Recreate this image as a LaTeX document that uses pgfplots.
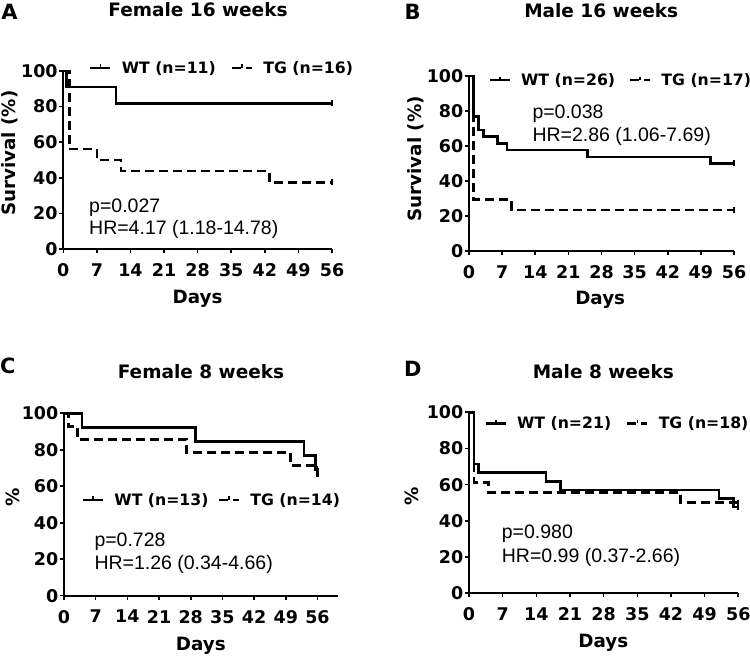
\documentclass[border=0pt]{standalone}
\usepackage{fontspec}
\setmainfont{Liberation Sans}
\newfontfamily\bfont{DejaVu Sans}
\usepackage{pgfplots}
\pgfplotsset{compat=1.18}
\newcommand\fs[1]{\fontsize{#1}{#1}\selectfont}
\newcommand\bfs[1]{\bfont\bfseries\fs{#1}}
\pgfplotsset{
 km/.style={
  scale only axis, axis lines=left, axis line style={line width=2pt,-},
  ymin=0, ymax=100, ytick={0,20,40,60,80,100}, xmin=0, xtick={0,7,...,56},
  tick style={line width=1.6pt,black}, major tick length=4pt, tick align=outside,
  clip=false,
  /pgf/number format/assume math mode=true,
  ticklabel style={font=\bfs{17.5}},
  yticklabel style={inner xsep=1.5pt},
  xticklabel style={yshift=-7pt},
  label style={font=\bfs{18.3}},
  legend style={draw=none, fill=none, inner sep=0pt, anchor=west, font=\bfs{15.7}, cells={anchor=west}, nodes={inner sep=0pt}},
  legend columns=2,
  legend image code/.code={\draw[##1] (0pt,0pt)--(20pt,0pt); \draw[solid,line width=1.6pt] (10pt,0pt)--(10pt,3.5pt); \path (0pt,0pt) (30pt,0pt);},
 },
 wt/.style={black, line width=2.6pt, solid},
 tg/.style={black, line width=2.6pt, dash pattern=on 9pt off 5pt},
 cens/.style={only marks, mark=|, mark size=3pt, line width=1.6pt, black, forget plot},
}
\begin{document}
\begin{tikzpicture}
\useasboundingbox (0,0) rectangle (750pt,658pt);
% Panel A
\begin{axis}[km, at={(63.3pt,409pt)}, anchor=south west, width=268.7pt, height=178pt, xmax=56,
 xlabel={Days}, ylabel={Survival (\%)},
 xlabel style={at={(rel axis cs:0.5,-0.309)}, anchor=base},
 ylabel style={at={(rel axis cs:-0.198,0.539)}, anchor=center},
 legend style={at={(0.0956,1.017)}, /tikz/every even column/.append style={column sep=15pt}}]
\addplot[wt, const plot] coordinates {(0,100) (0.7,90.9) (11,81.8) (56,81.8)};
\addlegendentry{WT (n=11)}
\addplot[tg, const plot] coordinates {(0,100) (1.25,56.25) (7,50) (12,43.75) (43,37.5) (56,37.5)};
\addlegendentry{TG (n=16)}
\addplot[cens] coordinates {(56,81.8) (56,37.5)};
\end{axis}
% Panel B
\begin{axis}[km, at={(469pt,407pt)}, anchor=south west, width=265pt, height=175pt, xmax=56,
 xlabel={Days}, ylabel={Survival (\%)},
 xlabel style={at={(rel axis cs:0.495,-0.305)}, anchor=base},
 ylabel style={at={(rel axis cs:-0.2,0.526)}, anchor=center},
 legend style={at={(0.073,0.977)}, /tikz/every even column/.append style={column sep=13.7pt}}]
\addplot[wt, const plot] coordinates {(0,100) (1,76.9) (2,69.2) (3,65.4) (6,61.5) (8,57.7) (25,53.8) (51,50) (56,50)};
\addlegendentry{WT (n=26)}
\addplot[tg, const plot] coordinates {(0,100) (1,29.4) (9,23.5) (56,23.5)};
\addlegendentry{TG (n=17)}
\addplot[cens] coordinates {(56,50) (56,23.5)};
\end{axis}
% Panel C
\begin{axis}[km, at={(64pt,62.3pt)}, anchor=south west, width=274.3pt, height=182.4pt, xmax=60.6,
 xlabel={Days}, ylabel={\%},
 xlabel style={at={(rel axis cs:0.499,-0.298)}, anchor=base},
 ylabel style={at={(rel axis cs:-0.185,0.541)}, anchor=center},
 legend style={at={(0.0645,0.525)}, /tikz/every even column/.append style={column sep=9.3pt}}]
\addplot[wt, const plot] coordinates {(0,100) (4,92.3) (29,84.6) (53,76.9) (55.5,69.2) (56,69.2)};
\addlegendentry{WT (n=13)}
\addplot[tg, const plot] coordinates {(0,100) (1,92.9) (3,85.7) (27,78.6) (50,71.4) (56,64.3)};
\addlegendentry{TG (n=14)}
\addplot[cens] coordinates {(56,69.2)};
\end{axis}
% Panel D
\begin{axis}[km, at={(469pt,64.7pt)}, anchor=south west, width=269.3pt, height=181pt, xmax=56,
 xlabel={Days}, ylabel={\%},
 xlabel style={at={(rel axis cs:0.499,-0.30)}, anchor=base},
 ylabel style={at={(rel axis cs:-0.212,0.534)}, anchor=center},
 legend style={at={(0.057,0.939)}, /tikz/every even column/.append style={column sep=15pt}}]
\addplot[wt, const plot] coordinates {(0,100) (1,71.4) (2,66.7) (16,61.9) (19,57.1) (52,52.4) (55,47.6) (56,47.6)};
\addlegendentry{WT (n=21)}
\addplot[tg, const plot] coordinates {(0,100) (1,61.1) (4,55.6) (44,50) (56,50)};
\addlegendentry{TG (n=18)}
\addplot[cens] coordinates {(56,47.6) (56,50)};
\end{axis}
% titles and panel letters
\node[anchor=base, font=\bfs{18.5}] at (198pt,641.3pt) {Female 16 weeks};
\node[anchor=base, font=\bfs{18.5}] at (601.2pt,640.7pt) {Male 16 weeks};
\node[anchor=base, font=\bfs{18.5}] at (201pt,279.7pt) {Female 8 weeks};
\node[anchor=base, font=\bfs{18.5}] at (603.3pt,279.7pt) {Male 8 weeks};
\node[anchor=base west, inner sep=0pt, font=\bfs{21}] at (1.2pt,638pt) {A};
\node[anchor=base west, inner sep=0pt, font=\bfs{21}] at (404.5pt,638pt) {B};
\node[anchor=base west, inner sep=0pt, font=\bfs{21}] at (0pt,284.7pt) {C};
\node[anchor=base west, inner sep=0pt, font=\bfs{21}] at (403.8pt,281.3pt) {D};
% statistics
\begin{scope}[every node/.style={anchor=base west, inner sep=0pt, font=\fs{19.5}}]
\node at (89pt,445pt) {p=0.027};
\node at (89pt,423pt) {HR=4.17 (1.18-14.78)};
\node at (532.3pt,539.7pt) {p=0.038};
\node at (532.3pt,516pt) {HR=2.86 (1.06-7.69)};
\node at (94.3pt,111.3pt) {p=0.728};
\node at (94.3pt,88pt) {HR=1.26 (0.34-4.66)};
\node at (501.7pt,119.5pt) {p=0.980};
\node at (501.7pt,95.5pt) {HR=0.99 (0.37-2.66)};
\end{scope}
\end{tikzpicture}
\end{document}
